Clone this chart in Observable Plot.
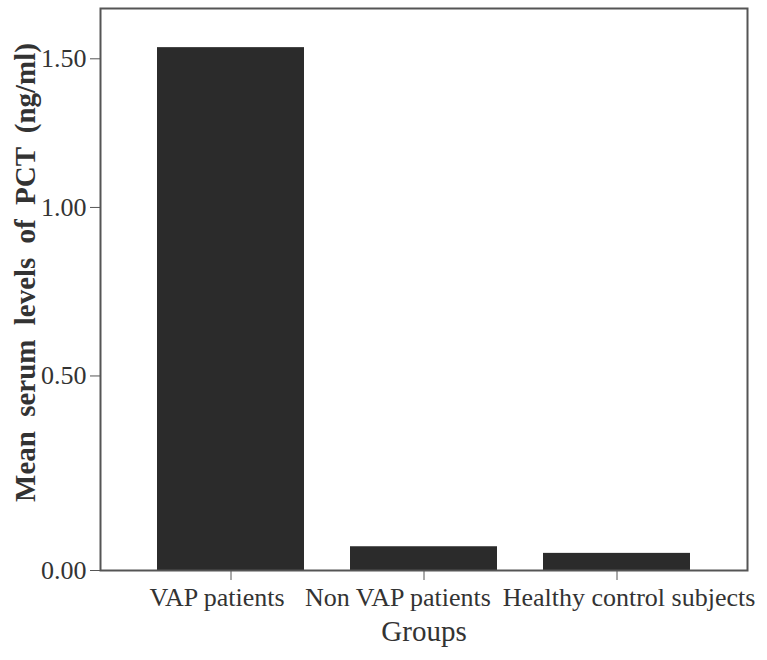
<!DOCTYPE html>
<html>
<head>
<meta charset="utf-8">
<script src="https://cdn.jsdelivr.net/npm/d3@7"></script>
<script src="https://cdn.jsdelivr.net/npm/@observablehq/plot@0.6"></script>
<style>
body { margin: 0; background: #fff; }
svg { display: block; }
.pct-chart g[aria-label="text"] text { word-spacing: 7px; }
</style>
</head>
<body>
<div id="chart"></div>
<script>
const groups = ["VAP patients", "Non VAP patients", "Healthy control subjects"];
const meanPCT = [1.54, 0.057, 0.041];
const yTicks = [0, 0.5, 1.0, 1.5];
const labelShift = [-14, -26, 12];
const yLabel = "Mean serum levels of PCT (ng/ml)";
const xLabel = "Groups";

const data = groups.map((g, i) => ({group: g, value: meanPCT[i]}));

const chart = Plot.plot({
  className: "pct-chart",
  width: 767,
  height: 660,
  marginLeft: 100,
  marginRight: 20,
  marginTop: 8,
  marginBottom: 90,
  style: {fontFamily: "Liberation Serif", fontSize: "26px", color: "#333", background: "#fff"},
  x: {type: "band", domain: groups, paddingInner: 0.24, paddingOuter: 0.29, label: null},
  y: {type: "symlog", constant: 3, domain: [0, 1.683], label: null},
  marks: [
    Plot.barY(data, {x: "group", y: "value", fill: "#2b2b2b"}),
    Plot.frame({stroke: "#555", strokeWidth: 2}),
    Plot.axisY({ticks: yTicks, tickFormat: d3.format(".2f"), tickSize: 10, tickPadding: 4, stroke: "#555", label: null, fontSize: 26, fill: "#333"}),
    Plot.axisX({tickSize: 10, text: null, stroke: "#555", label: null}),
    ...groups.map((g, i) => Plot.axisX({ticks: [g], tickSize: 0, tickPadding: 17, dx: labelShift[i], label: null, fontSize: 26, fill: "#333"})),
    Plot.text([yLabel], {frameAnchor: "left", textAnchor: "middle", rotate: -90, dx: -75, dy: -17, fontWeight: "bold", fontSize: 29, fill: "#333"}),
    Plot.text([xLabel], {frameAnchor: "bottom", dy: 70, fontSize: 29, fill: "#333"})
  ]
});
document.getElementById("chart").appendChild(chart);
</script>
</body>
</html>
